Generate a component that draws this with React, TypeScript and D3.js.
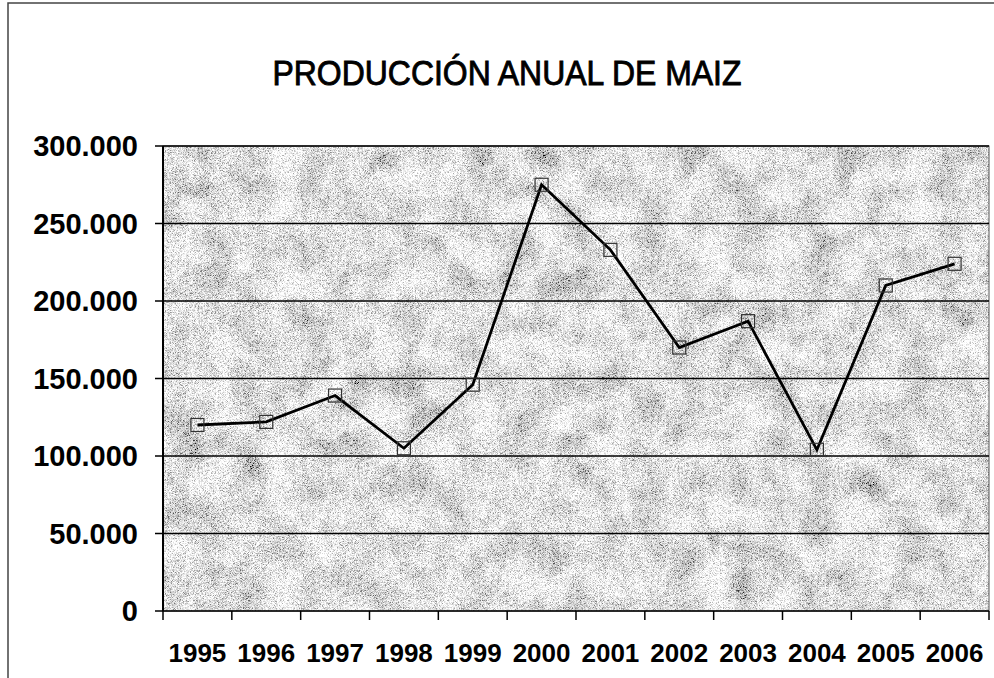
import React from "react";
import * as d3 from "d3";

const years = ["1995","1996","1997","1998","1999","2000","2001","2002","2003","2004","2005","2006"];
const production = [120000, 122000, 139000, 105000, 146000, 275000, 233000, 170000, 187000, 104000, 210000, 224000];
const yTicks = [0, 50000, 100000, 150000, 200000, 250000, 300000];
const title = "PRODUCCIÓN ANUAL DE MAIZ";

const W = 994, H = 678;
const plot = { left: 163, top: 146, right: 989, bottom: 611 };

const fmt = d3.formatLocale({ decimal: ",", thousands: ".", grouping: [3], currency: ["", ""] }).format(",");

export default function App() {
  const x = d3.scaleBand<string>().domain(years).range([plot.left, plot.right]);
  const y = d3.scaleLinear().domain([0, 300000]).range([plot.bottom, plot.top]);
  const line = d3.line<number>()
    .x((_, i) => (x(years[i]) as number) + x.bandwidth() / 2)
    .y((d) => y(d));
  const font = "'Liberation Sans', Arial, sans-serif";
  const pw = plot.right - plot.left, ph = plot.bottom - plot.top;
  return (
    <svg width={W} height={H} style={{ position: "absolute", left: 0, top: 0, background: "#fff" }}>
      <defs>
        <filter id="grain" x="0" y="0" width="100%" height="100%" filterUnits="objectBoundingBox">
          <feTurbulence type="fractalNoise" baseFrequency="1.6" numOctaves={1} seed={7} result="fine" />
          <feColorMatrix in="fine" type="matrix"
            values="1.8 1.8 1.8 0 -2.05  1.8 1.8 1.8 0 -2.05  1.8 1.8 1.8 0 -2.05  0 0 0 0 1" result="fineG" />
          <feTurbulence type="fractalNoise" baseFrequency="0.03" numOctaves={3} seed={3} result="coarse" />
          <feColorMatrix in="coarse" type="matrix"
            values="0.9 0.9 0.9 0 -0.7  0.9 0.9 0.9 0 -0.7  0.9 0.9 0.9 0 -0.7  0 0 0 0 1" result="coarseG" />
          <feComposite in="fineG" in2="coarseG" operator="arithmetic" k1="0" k2="0.75" k3="0.45" k4="-0.03" result="mix" />
          <feComposite in="mix" in2="SourceGraphic" operator="in" />
        </filter>
      </defs>
      <rect x={8} y={3} width={W + 10} height={H} fill="none" stroke="#444" strokeWidth={1.5} />
      <text x={507} y={85} textAnchor="middle" fontFamily={font} fontSize={35} fill="#000" stroke="#000" strokeWidth={0.9}
        textLength={469} lengthAdjust="spacingAndGlyphs">{title}</text>
      <rect x={plot.left} y={plot.top} width={pw} height={ph} fill="#a8a8a8" filter="url(#grain)" />
      <rect x={plot.left} y={plot.top} width={pw} height={ph} fill="none" stroke="#555" strokeWidth={1} />
      {yTicks.map((t) => (
        <g key={t}>
          <line x1={plot.left - 8} x2={plot.right} y1={y(t)} y2={y(t)} stroke="#000" strokeWidth={1.6} />
          <text x={138} y={y(t)} dy="0.36em" textAnchor="end" fontFamily={font} fontWeight="bold" fontSize={29} fill="#000">{fmt(t)}</text>
        </g>
      ))}
      <line x1={plot.left} x2={plot.left} y1={plot.top} y2={plot.bottom} stroke="#000" strokeWidth={2} />
      {years.concat(["end"]).map((yr, i) => {
        const xx = i < years.length ? (x(yr) as number) : plot.right;
        return <line key={yr} x1={xx} x2={xx} y1={plot.bottom} y2={plot.bottom + 9} stroke="#000" strokeWidth={1.5} />;
      })}
      {years.map((yr) => (
        <text key={yr} x={(x(yr) as number) + x.bandwidth() / 2} y={662} textAnchor="middle" fontFamily={font}
          fontWeight="bold" fontSize={26} fill="#000">{yr}</text>
      ))}
      <path d={line(production) || ""} fill="none" stroke="#000" strokeWidth={2.8} strokeLinejoin="miter" />
      {production.map((v, i) => (
        <rect key={i} x={(x(years[i]) as number) + x.bandwidth() / 2 - 6.5} y={y(v) - 6.5} width={13} height={13}
          fill="none" stroke="#333" strokeWidth={1.2} />
      ))}
    </svg>
  );
}
